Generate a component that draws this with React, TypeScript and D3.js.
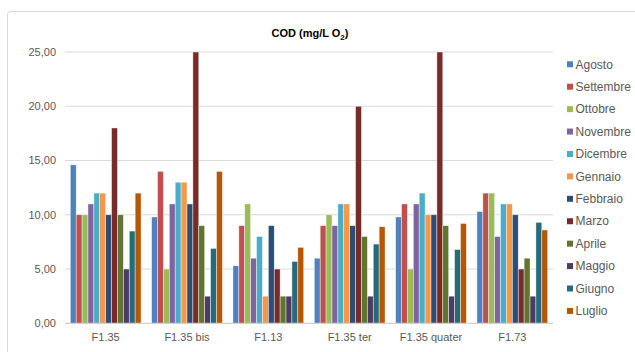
import React from "react";
import * as d3 from "d3";

const categories = ["F1.35", "F1.35 bis", "F1.13", "F1.35 ter", "F1.35 quater", "F1.73"];
const months = ["Agosto", "Settembre", "Ottobre", "Novembre", "Dicembre", "Gennaio", "Febbraio", "Marzo", "Aprile", "Maggio", "Giugno", "Luglio"];
const colors = ["#4F81BD", "#C0504D", "#9BBB59", "#8064A2", "#4BACC6", "#F79646", "#2C4D75", "#772C2A", "#5F7530", "#4D3B62", "#276A7C", "#B65708"];

// values per month, one entry per category
const agosto = [14.6, 9.8, 5.3, 6.0, 9.8, 10.3];
const settembre = [10, 14, 9, 9, 11, 12];
const ottobre = [10, 5, 11, 10, 5, 12];
const novembre = [11, 11, 6, 9, 11, 8];
const dicembre = [12, 13, 8, 11, 12, 11];
const gennaio = [12, 13, 2.5, 11, 10, 11];
const febbraio = [10, 11, 9, 9, 10, 10];
const marzo = [18, 25, 5, 20, 25, 5];
const aprile = [10, 9, 2.5, 8, 9, 6];
const maggio = [5, 2.5, 2.5, 2.5, 2.5, 2.5];
const giugno = [8.5, 6.9, 5.7, 7.3, 6.8, 9.3];
const luglio = [12, 14, 7, 8.9, 9.2, 8.6];
const seriesValues = [agosto, settembre, ottobre, novembre, dicembre, gennaio, febbraio, marzo, aprile, maggio, giugno, luglio];

const yTicks = [0, 5, 10, 15, 20, 25];

const W = 635;
const H = 352;
const left = 65;
const right = 553;
const top = 52;
const bottom = 323.3;
const textColor = "#595959";
const font = "Liberation Sans, Arial, sans-serif";

export default function App() {
  const x0 = d3.scaleBand<string>().domain(categories).range([left, right]).paddingInner(0.13).paddingOuter(0.065);
  const x1 = d3.scaleBand<string>().domain(months).range([0, x0.bandwidth()]);
  const y = d3.scaleLinear().domain([0, 25]).range([bottom, top]);
  const fmt = (v: number) => d3.format(".2f")(v).replace(".", ",");

  return (
    <svg width={W} height={H} style={{ position: "absolute", left: 0, top: 0, background: "#fff" }} fontFamily={font}>
      <rect x={7.5} y={11.5} width={W} height={H} fill="white" stroke="#d9d9d9" strokeWidth={1} rx={3} />
      <text x={310} y={37} textAnchor="middle" fontSize={11} fontWeight="bold" fill="#000">
        COD (mg/L O<tspan fontSize={8} dy={3}>2</tspan><tspan dy={-3}>)</tspan>
      </text>
      {yTicks.map((t) => (
        <g key={t}>
          {t > 0 && <line x1={left} x2={right} y1={y(t)} y2={y(t)} stroke="#d9d9d9" strokeWidth={1} />}
          <text x={56} y={y(t)} dy="0.35em" textAnchor="end" fontSize={11} fill={textColor}>
            {fmt(t)}
          </text>
        </g>
      ))}
      {categories.map((c, ci) => (
        <g key={c} transform={`translate(${x0(c)},0)`}>
          {months.map((m, mi) => {
            const v = seriesValues[mi][ci];
            return (
              <rect
                key={m}
                x={x1(m)}
                y={y(v)}
                width={x1.bandwidth()}
                height={bottom - y(v)}
                fill={colors[mi]}
                stroke="white"
                strokeOpacity={0.7}
                strokeWidth={0.6}
              />
            );
          })}
        </g>
      ))}
      <line x1={left} x2={right} y1={bottom} y2={bottom} stroke="#d0d0d0" strokeWidth={1.2} />
      {categories.map((c) => (
        <text key={c} x={(x0(c) as number) + x0.bandwidth() / 2} y={341} textAnchor="middle" fontSize={11} fill={textColor}>
          {c}
        </text>
      ))}
      {months.map((m, i) => {
        const cy = 64.3 + i * 22.42;
        return (
          <g key={m}>
            <rect x={567} y={cy - 3} width={6} height={6} fill={colors[i]} />
            <text x={575.5} y={cy} dy="0.35em" fontSize={12} fill={textColor}>
              {m}
            </text>
          </g>
        );
      })}
    </svg>
  );
}
